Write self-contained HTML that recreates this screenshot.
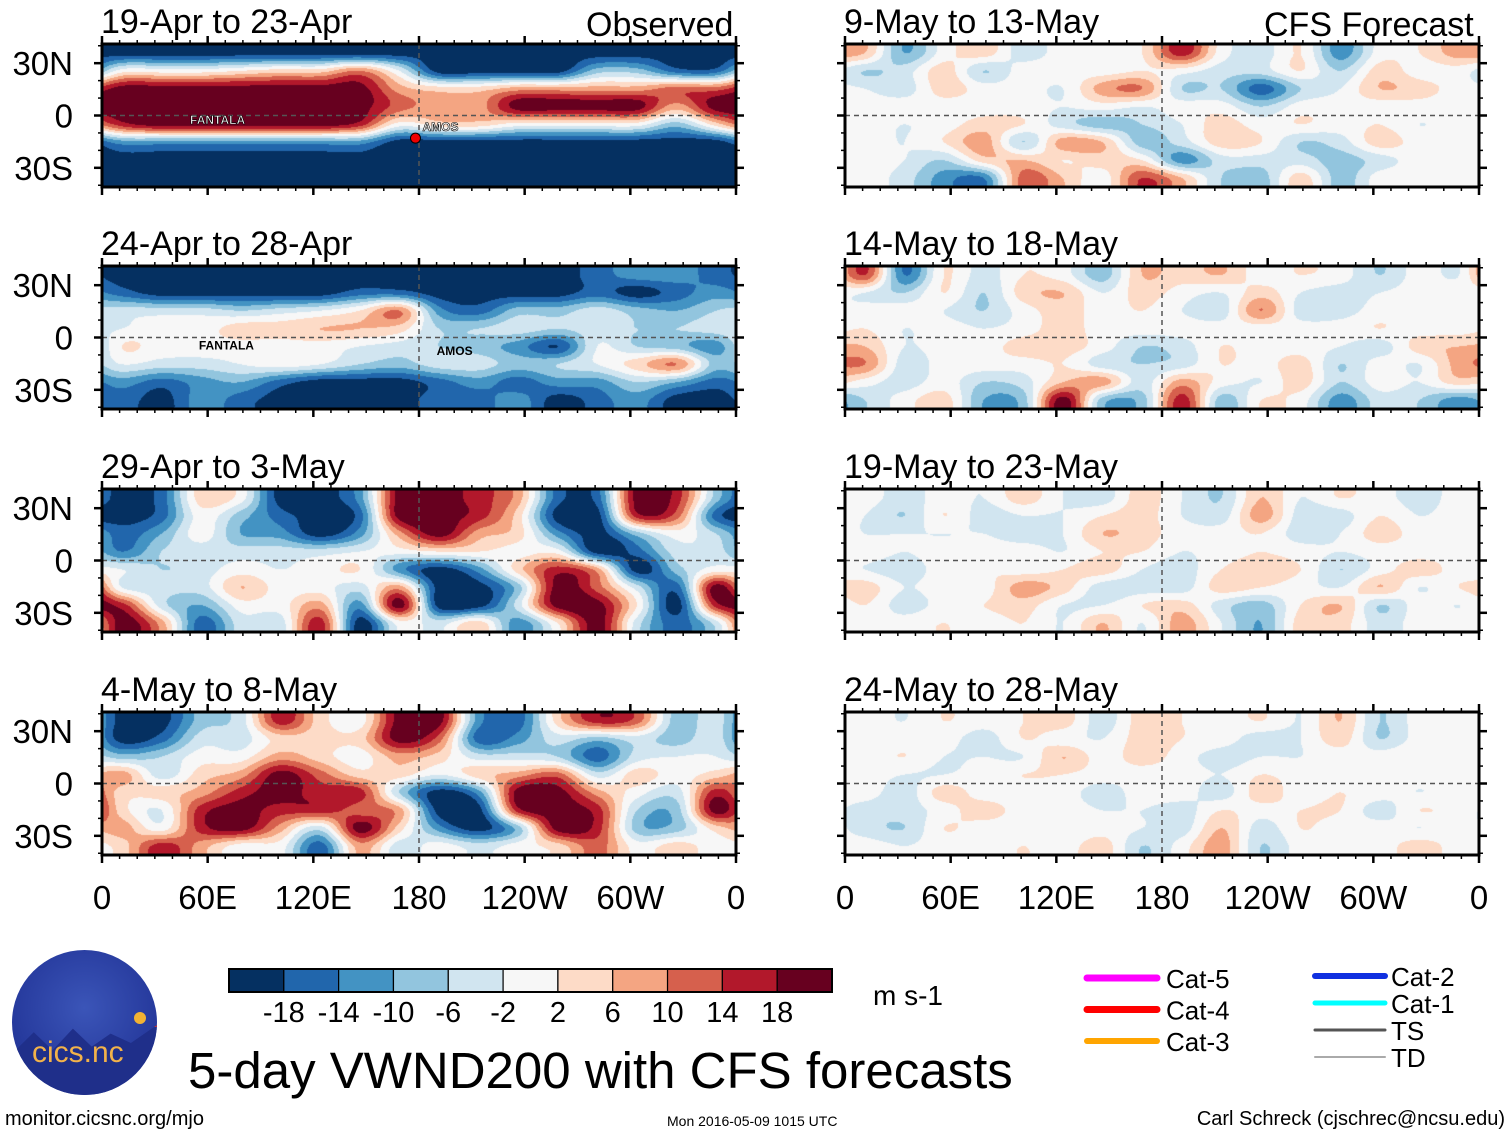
<!DOCTYPE html>
<html><head><meta charset="utf-8"><title>5-day VWND200 with CFS forecasts</title>
<style>
html,body{margin:0;padding:0;background:#fff;}
body{width:1510px;height:1137px;position:relative;overflow:hidden;font-family:"Liberation Sans",Arial,sans-serif;color:#000;}
.t{position:absolute;white-space:nowrap;line-height:1;}
canvas{position:absolute;}
</style></head>
<body>
<svg id="ov" width="1510" height="1137" style="position:absolute;left:0;top:0;z-index:2"></svg>

<div class="t" style="left:586px;top:8px;font-size:34px;">Observed</div>
<div class="t" style="left:1264px;top:8px;font-size:34px;">CFS Forecast</div>

<div class="t" style="left:873px;top:982px;font-size:28px;">m s-1</div>
<div class="t" style="left:188px;top:1045px;font-size:51px;">5-day VWND200 with CFS forecasts</div>
<div class="t" style="left:5px;top:1109px;font-size:20px;">monitor.cicsnc.org/mjo</div>
<div class="t" style="left:667px;top:1114px;font-size:14px;">Mon 2016-05-09 1015 UTC</div>
<div class="t" style="right:5px;top:1109px;font-size:20px;">Carl Schreck (cjschrec@ncsu.edu)</div>

<div style="position:absolute;left:12px;top:950px;width:145px;height:145px;border-radius:50%;background:radial-gradient(circle at 50% 40%,#3b55b8,#24379a 70%,#1c2c80);overflow:hidden;">
  <div style="position:absolute;left:0;top:75px;width:145px;height:70px;background:#1f2f8a;clip-path:polygon(0 40%,15% 10%,28% 35%,42% 5%,55% 30%,68% 12%,82% 25%,100% 0,100% 100%,0 100%);border-top:2px solid #c33;"></div>
  <div style="position:absolute;left:122px;top:62px;width:12px;height:12px;border-radius:50%;background:#f2b233;"></div>
  <div class="t" style="left:20px;top:88px;font-size:30px;color:#f2b24a;">cics.nc</div>
</div>

<script>
// ---- colour scale ----
const levels=[-18,-14,-10,-6,-2,2,6,10,14,18];
const levelLabels=["-18","-14","-10","-6","-2","2","6","10","14","18"];
const palette=["#053061","#2166ac","#4393c3","#92c5de","#d1e5f0","#f7f7f7","#fddbc7","#f4a582","#d6604d","#b2182b","#67001f"];

// ---- panel titles ----
const leftTitles=["19-Apr to 23-Apr","24-Apr to 28-Apr","29-Apr to 3-May","4-May to 8-May"];
const rightTitles=["9-May to 13-May","14-May to 18-May","19-May to 23-May","24-May to 28-May"];
const latLabels=["30N","0","30S"];
const latTicks=[30,0,-30];
const lonLabels=["0","60E","120E","180","120W","60W","0"];
const lonTicks=[0,60,120,180,240,300,360];

// ---- fields: rows 35N..35S (10deg), cols 16 x 22.5deg from 0E ----
const fieldA=[
[-20,-20,-20,-20,-20,-20,-20,-20,-20,-20,-20,-20,-20,-20,-20,-20],
[0,0,0,2,4,4,10,-2,-20,-20,-20,-20,-8,-8,-16,-16],
[20,20,20,20,20,20,20,8,4,4,8,8,8,8,12,12],
[20,20,20,20,20,20,20,12,8,8,20,20,20,20,8,20],
[16,20,20,20,20,20,16,0,4,4,0,0,0,0,-8,4],
[-12,-12,-12,-12,-12,-12,-12,-20,-20,-20,-20,-20,-20,-20,-20,-20],
[-20,-20,-20,-20,-20,-20,-20,-20,-20,-20,-20,-20,-20,-20,-20,-20],
[-20,-20,-20,-20,-20,-20,-20,-20,-20,-20,-20,-20,-20,-20,-20,-20]];
const fieldB=[
[-20,-20,-20,-20,-20,-20,-20,-20,-20,-20,-20,-20,-16,-12,-12,-16],
[-16,-20,-20,-20,-20,-20,-16,-16,-20,-20,-20,-20,-16,-20,-16,-12],
[-4,-4,-4,-6,-4,-2,2,10,-12,-16,-8,-8,-4,-8,-10,-6],
[-2,0,0,4,4,6,6,4,-6,-6,-4,-6,-4,-6,-6,-4],
[2,0,0,0,0,0,-2,-4,-6,-8,-12,-18,-2,-6,-8,-12],
[-2,-4,-4,-2,0,-2,-6,-8,-4,-4,-8,-6,-2,4,10,-8],
[-12,-16,-12,-10,-16,-20,-20,-20,-16,-12,-16,-12,-12,-6,-10,-16],
[-16,-20,-12,-16,-20,-20,-20,-20,-16,-16,-12,-20,-16,-12,-20,-20]];
const fieldC=[
[-20,-16,4,0,-20,-20,-12,20,20,16,8,-16,-16,20,16,-8],
[-20,-16,0,-8,-16,-20,-16,20,20,16,4,-20,-20,16,12,-16],
[-16,-10,0,-10,-12,-20,-12,8,20,8,4,-12,-20,-8,0,-6],
[-14,-6,-4,-4,-4,-4,-2,0,2,2,0,0,-20,-16,-4,-4],
[-2,-6,-4,0,-2,0,2,-12,-20,-12,4,16,8,-20,-8,0],
[-2,-4,-4,6,0,0,-4,8,-20,-20,-8,20,12,-4,-16,20],
[16,-4,-10,0,0,8,-12,20,-20,-20,-4,20,20,2,-20,16],
[20,8,-16,-4,-4,16,-20,0,-4,4,-12,2,20,-4,-16,-4]];
const fieldD=[
[-20,-20,-8,-4,16,4,0,20,20,-12,-16,4,16,12,-8,-4],
[-20,-16,-4,-4,4,4,4,20,12,-16,-12,-4,-8,-4,-8,-4],
[-8,-6,0,0,8,4,0,8,4,-4,-4,-6,-16,-4,-2,-2],
[8,-4,4,8,20,12,4,4,-2,4,8,12,-4,4,0,4],
[4,4,8,16,20,16,16,-6,-20,-12,20,20,8,0,-4,16],
[4,-2,16,20,16,16,12,8,-20,-20,16,20,16,-6,-8,20],
[8,0,16,20,8,-4,20,4,-12,-20,-8,20,16,-8,-8,4],
[4,16,8,0,0,-16,8,-4,0,-4,0,4,12,0,4,0]];
const fieldE=[
[6,-10,0,4,-4,0,0,2,16,0,-4,2,-12,0,2,8],
[-6,-4,4,-6,0,0,0,2,0,-4,-4,2,-6,4,0,0],
[-2,-4,4,0,0,-2,8,10,-6,-6,-16,-6,-2,6,4,0],
[0,0,0,0,0,-2,0,-2,0,0,-6,0,0,0,0,0],
[0,-2,0,4,2,-4,-8,-6,-2,4,0,2,0,2,-2,0],
[0,-2,2,8,-6,8,6,-8,-4,4,2,-6,-4,4,0,0],
[0,-2,-6,4,6,2,4,2,-12,-4,-4,-4,-8,-4,0,0],
[0,-4,-12,-14,12,6,0,14,6,-6,-8,4,-8,0,0,0]];
const fieldF=[
[14,-14,2,-4,2,0,-8,6,4,6,0,2,0,-6,0,-2],
[-2,-6,2,-6,4,6,-2,4,0,-2,4,-2,-4,-2,0,0],
[0,0,-2,-6,0,4,0,2,-2,-4,10,-4,-4,0,0,-2],
[2,-2,0,-2,0,4,0,0,0,0,0,0,0,2,0,0],
[6,-2,0,0,4,4,0,-6,-4,2,0,0,-2,-4,4,6],
[10,-4,0,0,0,2,-4,-6,-4,2,0,4,-6,0,-2,8],
[0,-4,0,-6,-4,6,8,-4,8,0,-2,4,-6,0,-2,4],
[-6,0,4,-10,-8,20,-8,-8,16,-8,2,0,-12,-4,-6,-12]];
const fieldG=[
[0,-4,0,-2,4,-2,-4,4,-2,-6,6,-2,2,0,-4,0],
[-2,-6,2,-4,-2,-2,2,4,-2,-4,8,-4,-4,2,-2,0],
[-2,-2,-2,-2,-4,-2,6,4,0,0,2,-4,-2,4,0,0],
[0,-2,0,0,0,-2,2,2,-2,0,2,0,-2,0,0,0],
[-2,-4,0,2,0,2,4,-2,-4,2,4,2,-6,0,4,0],
[4,-2,0,0,8,4,-4,-4,-4,4,2,0,-2,6,-2,2],
[2,-4,0,2,4,-2,-2,2,4,-4,-8,2,6,-6,0,-2],
[0,0,2,0,2,-2,6,-2,8,-2,-10,4,4,-4,0,0]];
const fieldH=[
[0,-2,2,0,2,4,-4,4,2,0,2,-2,6,-6,0,0],
[-2,0,0,-4,2,0,-2,4,2,0,-4,-2,4,-6,0,0],
[0,2,-2,-2,-2,6,0,4,0,-4,-2,-2,0,0,2,0],
[0,-2,-2,0,2,2,0,0,0,-2,2,0,0,0,0,0],
[0,-4,4,0,0,0,-4,0,0,-4,4,0,2,0,-2,0],
[-4,-4,0,4,0,0,-2,-2,-4,2,0,2,2,-4,2,0],
[-4,-6,2,0,0,-2,0,-2,-4,6,-4,2,0,0,-2,0],
[0,-2,0,0,2,0,4,-6,0,8,-6,0,0,0,4,0]];

const leftFields=[fieldA,fieldB,fieldC,fieldD];
const rightFields=[fieldE,fieldF,fieldG,fieldH];

// ---- storm labels (panel index, name, lon, lat) ----
const stormPanels=[0,0,1,1];
const stormNames=["FANTALA","AMOS","FANTALA","AMOS"];
const stormLons=[50,182,55,190];
const stormLats=[-5,-9,-7,-10];

// ---- layout ----
const colX=[102,845], PW=634;
const rowY=[44,266,489,712], PH=143;
const LATTOP=41;
const NS="http://www.w3.org/2000/svg";
const ov=document.getElementById('ov');
function lonX(x0,lon){return x0+lon/360*PW;}
function latY(y0,lat){return y0+(LATTOP-lat)/(2*LATTOP)*PH;}
function hex(c){return [parseInt(c.slice(1,3),16),parseInt(c.slice(3,5),16),parseInt(c.slice(5,7),16)];}
const rgb=palette.map(hex);
function colorIdx(v){let i=0;while(i<levels.length&&v>=levels[i])i++;return i;}
function cr(p0,p1,p2,p3,t){return 0.5*((2*p1)+(-p0+p2)*t+(2*p0-5*p1+4*p2-p3)*t*t+(-p0+3*p1-3*p2+p3)*t*t*t);}
function sample(f,u,v){
  const nc=f[0].length,nr=f.length;
  const i=Math.floor(u),j=Math.floor(v),tu=u-i,tv=v-j;
  const g=(jj,ii)=>f[Math.max(0,Math.min(nr-1,jj))][((ii%nc)+nc)%nc];
  const r=[];
  for(let k=-1;k<3;k++){r.push(cr(g(j+k,i-1),g(j+k,i),g(j+k,i+1),g(j+k,i+2),tu));}
  return cr(r[0],r[1],r[2],r[3],tv);
}
function el(tag,attrs,parent){const e=document.createElementNS(NS,tag);for(const k in attrs)e.setAttribute(k,attrs[k]);(parent||ov).appendChild(e);return e;}

function drawPanel(x0,y0,field,name){
  const cv=document.createElement('canvas');
  cv.width=PW;cv.height=PH;cv.style.left=x0+'px';cv.style.top=y0+'px';
  
  
  document.body.appendChild(cv);
  const ctx=cv.getContext('2d');const im=ctx.createImageData(PW,PH);
  const nc=field[0].length,nr=field.length;
  for(let y=0;y<PH;y++){const v=(y+0.5)/PH*nr-0.5;
    for(let x=0;x<PW;x++){const u=(x+0.5)/PW*nc-0.5;
      const c=rgb[colorIdx(sample(field,u,v))];const o=(y*PW+x)*4;
      im.data[o]=c[0];im.data[o+1]=c[1];im.data[o+2]=c[2];im.data[o+3]=255;}}
  ctx.putImageData(im,0,0);
  el('line',{x1:x0,x2:x0+PW,y1:latY(y0,0),y2:latY(y0,0),stroke:'#555','stroke-width':1.5,'stroke-dasharray':'5,4'});
  el('line',{x1:lonX(x0,180),x2:lonX(x0,180),y1:y0,y2:y0+PH,stroke:'#555','stroke-width':1.5,'stroke-dasharray':'5,4'});
  const fr=el('rect',{x:x0,y:y0,width:PW,height:PH,fill:'none',stroke:'#000','stroke-width':3});
  
  for(let lon=0;lon<=360;lon+=10){const maj=lon%60===0,X=lonX(x0,lon);
    el('line',{x1:X,x2:X,y1:y0+PH,y2:y0+PH+(maj?8:4),stroke:'#000','stroke-width':maj?2.5:1.5});
    el('line',{x1:X,x2:X,y1:y0,y2:y0-(maj?8:4),stroke:'#000','stroke-width':maj?2.5:1.5});}
  for(let lat=-40;lat<=40;lat+=10){const maj=lat%30===0,Y=latY(y0,lat);
    el('line',{x1:x0,x2:x0-(maj?8:4),y1:Y,y2:Y,stroke:'#000','stroke-width':maj?2.5:1.5});
    el('line',{x1:x0+PW,x2:x0+PW+(maj?8:4),y1:Y,y2:Y,stroke:'#000','stroke-width':maj?2.5:1.5});}
}

for(let c=0;c<2;c++){
  for(let r=0;r<4;r++){
    const x0=colX[c],y0=rowY[r];
    drawPanel(x0,y0,(c===0?leftFields:rightFields)[r],(c===0?'observed-map-':'forecast-map-')+(r+1));
    const t=el('text',{x:x0-1,y:y0-11,'font-size':34,'font-family':'Liberation Sans, sans-serif'});
    t.textContent=(c===0?leftTitles:rightTitles)[r];
    
    
    if(c===0){
      latTicks.forEach((lat,i)=>{
        const l=el('text',{x:73,y:latY(y0,lat)+12,'font-size':33,'text-anchor':'end','font-family':'Liberation Sans, sans-serif'});
        l.textContent=latLabels[i];
        
        
      });
    }
  }
  lonTicks.forEach((lon,i)=>{
    const l=el('text',{x:lonX(colX[c],lon),y:909,'font-size':33,'text-anchor':'middle','font-family':'Liberation Sans, sans-serif'});
    l.textContent=lonLabels[i];
    
    
  });
}

// storm labels
stormNames.forEach((n,i)=>{
  const x0=colX[0],y0=rowY[stormPanels[i]];
  const t=el('text',{x:lonX(x0,stormLons[i]),y:latY(y0,stormLats[i]),'font-size':12,'font-weight':'bold','font-family':'Liberation Sans, sans-serif',fill:stormPanels[i]===0?'#fff':'#000',stroke:stormPanels[i]===0?'#000':'none','stroke-width':0.6});
  t.textContent=n;
  
  
});
el('circle',{cx:lonX(colX[0],178),cy:latY(rowY[0],-13),r:5,fill:'#e00',stroke:'#000','stroke-width':1});

// ---- colour bar ----
const cbX=229,cbY=969,cbW=603,cbH=23,bw=cbW/palette.length;
palette.forEach((col,i)=>{
  const r=el('rect',{x:cbX+i*bw,y:cbY,width:bw,height:cbH,fill:col,stroke:'#000','stroke-width':1.2});
  
  
});
el('rect',{x:cbX,y:cbY,width:cbW,height:cbH,fill:'none',stroke:'#000','stroke-width':2});
levelLabels.forEach((lab,i)=>{
  const t=el('text',{x:cbX+(i+1)*bw,y:1022,'font-size':29,'text-anchor':'middle','font-family':'Liberation Sans, sans-serif'});
  t.textContent=lab;
  
  
});

// ---- storm legend ----
const legNames=["Cat-5","Cat-4","Cat-3","Cat-2","Cat-1","TS","TD"];
const legColors=["#ff00ff","#ff0000","#ffa500","#1030e0","#00ffff","#555555","#aaaaaa"];
const legWidths=[7,7,6,6,5,3,2];
legNames.forEach((n,i)=>{
  const left=i<3;const x=left?1087:1315;const y=left?978+i*31.5:976+(i-3)*27;
  const ln=el('line',{x1:x,x2:x+70,y1:y,y2:y,stroke:legColors[i],'stroke-width':legWidths[i],'stroke-linecap':'round'});
  
  
  const t=el('text',{x:left?1166:1391,y:y+10,'font-size':26,'font-family':'Liberation Sans, sans-serif'});
  t.textContent=n;
  
  
});
</script>
</body></html>
